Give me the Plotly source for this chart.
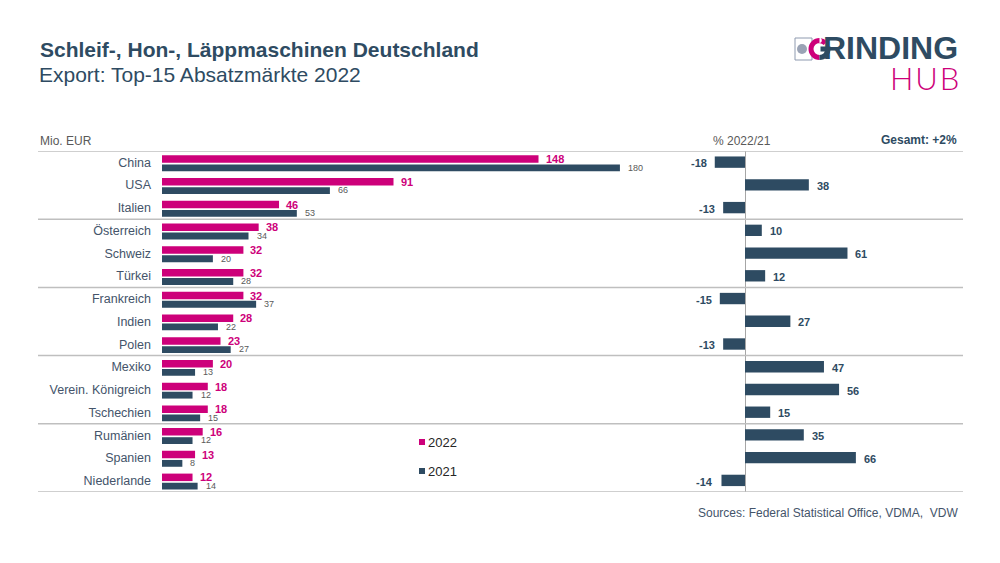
import plotly.graph_objects as go

# ---------------- data ----------------
categories = ["China", "USA", "Italien", "Österreich", "Schweiz", "Türkei",
              "Frankreich", "Indien", "Polen", "Mexiko", "Verein. Königreich",
              "Tschechien", "Rumänien", "Spanien", "Niederlande"]
values_2022 = [148, 91, 46, 38, 32, 32, 32, 28, 23, 20, 18, 18, 16, 13, 12]
values_2021 = [180, 66, 53, 34, 20, 28, 37, 22, 27, 13, 12, 15, 12, 8, 14]
change_pct = [-18, 38, -13, 10, 61, 12, -15, 27, -13, 47, 56, 15, 35, 66, -14]
series_names = ["2022", "2021"]
group_size = 3

# ---------------- styles ----------------
PAGE_W, PAGE_H = 1000, 563
OFF = 8                      # default body margin of the page
W, H = PAGE_W - OFF, PAGE_H - OFF
PINK = "#CD007A"
DARK = "#2E4B62"
TXT = "#44546A"
GRID = "#BFBFBF"
FONT = "Liberation Sans, Arial, sans-serif"

TOP, BOTTOM = 151, 492  # plot area (page px)


def px(x):
    return (x - OFF) / W


def py(y):
    return (PAGE_H - y) / H


idx = list(range(len(categories)))

fig = go.Figure()

fig.add_trace(go.Bar(
    y=idx, x=values_2022, orientation="h", name=series_names[0],
    marker=dict(color=PINK, line=dict(width=0)),
    width=0.33, offset=-0.31, xaxis="x", yaxis="y", showlegend=False,
    hoverinfo="x+name"))
fig.add_trace(go.Bar(
    y=idx, x=values_2021, orientation="h", name=series_names[1],
    marker=dict(color=DARK, line=dict(width=0)),
    width=0.30, offset=0.09, xaxis="x", yaxis="y", showlegend=False,
    hoverinfo="x+name"))
fig.add_trace(go.Bar(
    y=idx, x=change_pct, orientation="h", name="% 2022/21",
    marker=dict(color=DARK, line=dict(width=0)),
    width=0.50, offset=-0.26, xaxis="x2", yaxis="y", showlegend=False,
    hoverinfo="x+name"))

annotations = []
# value labels
for i, (a, b, c) in enumerate(zip(values_2022, values_2021, change_pct)):
    annotations.append(dict(x=a, y=i - 0.14, xref="x", yref="y", text=str(a),
                            showarrow=False, xanchor="left", yanchor="middle",
                            xshift=5,
                            font=dict(family=FONT, size=11, color=PINK, weight="bold")))
    annotations.append(dict(x=b, y=i + 0.23, xref="x", yref="y", text=str(b),
                            showarrow=False, xanchor="left", yanchor="middle",
                            xshift=6,
                            font=dict(family=FONT, size=9, color="#595959")))
    annotations.append(dict(x=c, y=i + 0.04, xref="x2", yref="y", text=str(c),
                            showarrow=False,
                            xanchor="left" if c >= 0 else "right", yanchor="middle",
                            xshift=6 if c >= 0 else -6,
                            font=dict(family=FONT, size=11, color=DARK, weight="bold")))

# titles and texts
annotations += [
    dict(x=px(38), y=py(49), xref="paper", yref="paper", xanchor="left", yanchor="middle",
         text="Schleif-, Hon-, Läppmaschinen Deutschland", showarrow=False,
         font=dict(family=FONT, size=21, color=DARK, weight="bold")),
    dict(x=px(37), y=py(74), xref="paper", yref="paper", xanchor="left", yanchor="middle",
         text="Export: Top-15 Absatzmärkte 2022", showarrow=False,
         font=dict(family=FONT, size=21, color=DARK)),
    dict(x=px(38), y=py(141), xref="paper", yref="paper", xanchor="left", yanchor="middle",
         text="Mio. EUR", showarrow=False,
         font=dict(family=FONT, size=12, color="#595959")),
    dict(x=px(742), y=py(141), xref="paper", yref="paper", xanchor="center", yanchor="middle",
         text="% 2022/21", showarrow=False,
         font=dict(family=FONT, size=12, color="#595959")),
    dict(x=px(959), y=py(140), xref="paper", yref="paper", xanchor="right", yanchor="middle",
         text="Gesamt: +2%", showarrow=False,
         font=dict(family=FONT, size=12, color=DARK, weight="bold")),
    dict(x=px(961), y=py(513), xref="paper", yref="paper", xanchor="right", yanchor="middle",
         text="Sources: Federal Statistical Office, VDMA,  VDW", showarrow=False,
         font=dict(family=FONT, size=12, color=TXT)),
    # legend texts
    dict(x=px(426), y=py(442), xref="paper", yref="paper", xanchor="left", yanchor="middle",
         text=series_names[0], showarrow=False,
         font=dict(family=FONT, size=13, color="#262626")),
    dict(x=px(426), y=py(471), xref="paper", yref="paper", xanchor="left", yanchor="middle",
         text=series_names[1], showarrow=False,
         font=dict(family=FONT, size=13, color="#262626")),
    # logo texts
    dict(x=px(960), y=py(48), xref="paper", yref="paper", xanchor="right", yanchor="middle",
         text="RINDING", showarrow=False, height=24,
         font=dict(family=FONT, size=32, color=DARK, weight="bold")),
    dict(x=px(961), y=py(78), xref="paper", yref="paper", xanchor="right", yanchor="middle",
         text="H\u200aU\u200aB", showarrow=False, height=24,
         font=dict(family="Lato, Liberation Sans, sans-serif", size=31, color=PINK, weight=300)),
]

shapes = []
# group separator lines
n_groups = len(categories) // group_size
for g in range(n_groups + 1):
    yv = g * group_size - 0.5
    shapes.append(dict(type="line", xref="paper", yref="y", x0=px(38), x1=px(963),
                       y0=yv, y1=yv, line=dict(color=GRID, width=1.5)))

# legend squares
shapes.append(dict(type="rect", xref="paper", yref="paper", x0=px(419), x1=px(425),
                   y0=py(445), y1=py(439), fillcolor=PINK, line=dict(width=0)))
shapes.append(dict(type="rect", xref="paper", yref="paper", x0=px(419), x1=px(425),
                   y0=py(474), y1=py(468), fillcolor=DARK, line=dict(width=0)))

# logo icon
shapes.append(dict(type="rect", xref="paper", yref="paper", x0=px(795), x1=px(812),
                   y0=py(60), y1=py(38), line=dict(color="#8E9AAF", width=1),
                   fillcolor="rgba(0,0,0,0)"))
shapes.append(dict(type="circle", xref="paper", yref="paper", x0=px(797), x1=px(807),
                   y0=py(54), y1=py(44), fillcolor="#9AA3B5", line=dict(width=0)))


def pt(x, y):
    return f"{px(x):.5f},{py(y):.5f}"


cx, cy, r = 819.5, 49, 8.5
k = 0.5523 * r
arc = (f"M{pt(cx + r * 0.7, cy - r * 0.7)} "
       f"C{pt(cx + r * 0.35, cy - r * 1.0)} {pt(cx - k * 0.2, cy - r)} {pt(cx, cy - r)} "
       f"C{pt(cx - k, cy - r)} {pt(cx - r, cy - k)} {pt(cx - r, cy)} "
       f"C{pt(cx - r, cy + k)} {pt(cx - k, cy + r)} {pt(cx, cy + r)}")
shapes.append(dict(type="path", xref="paper", yref="paper", path=arc,
                   line=dict(color=PINK, width=5), fillcolor="rgba(0,0,0,0)"))
gpart = (f"M{pt(cx, cy + r)} C{pt(cx + k, cy + r)} {pt(cx + r, cy + k)} {pt(cx + r, cy)} "
         f"L{pt(cx + 1, cy)}")
shapes.append(dict(type="path", xref="paper", yref="paper", path=gpart,
                   line=dict(color=DARK, width=5), fillcolor="rgba(0,0,0,0)"))

left_scale = 2.544   # px per unit
right_scale = 1.68
left_x0, left_x1 = 162, 700
right_x0, right_x1, right_zero = 704, 963, 745

fig.update_layout(
    width=W, height=H,
    margin=dict(l=0, r=0, t=0, b=0),
    paper_bgcolor="white", plot_bgcolor="white",
    barmode="overlay",
    showlegend=False,
    font=dict(family=FONT, color=TXT),
    xaxis=dict(domain=[px(left_x0), px(left_x1)],
               range=[0, (left_x1 - left_x0) / left_scale],
               visible=False, showgrid=False, zeroline=False, fixedrange=True),
    xaxis2=dict(domain=[px(right_x0), px(right_x1)],
                range=[-(right_zero - right_x0) / right_scale, (right_x1 - right_zero) / right_scale],
                showgrid=False, zeroline=True, zerolinecolor="#A6A6A6", zerolinewidth=1,
                showticklabels=False, ticks="", showline=False, anchor="y", fixedrange=True),
    yaxis=dict(domain=[py(BOTTOM), py(TOP)],
               range=[len(categories) - 0.5, -0.5],
               tickmode="array", tickvals=idx, ticktext=categories,
               ticks="", showgrid=False, zeroline=False, showline=False,
               ticklabelstandoff=10, automargin=False, anchor="x",
               tickfont=dict(family=FONT, size=12.5, color=TXT), fixedrange=True),
    annotations=annotations,
    shapes=shapes,
)

fig.write_html("out.html")
